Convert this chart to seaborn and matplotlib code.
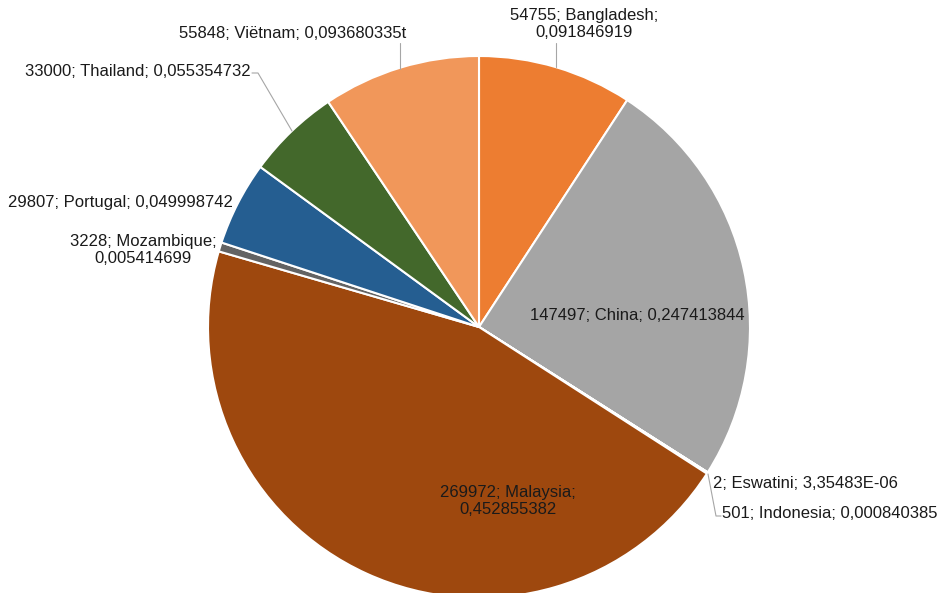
import matplotlib
matplotlib.use("Agg")
import matplotlib.pyplot as plt
import seaborn as sns

sns.set_style("white")
plt.rcParams['font.family'] = ['Liberation Sans', 'DejaVu Sans']

# --- data (clockwise from 12 o'clock) ---
countries = ['Bangladesh', 'China', 'Eswatini', 'Indonesia', 'Malaysia',
             'Mozambique', 'Portugal', 'Thailand', 'Viëtnam']
values = [54755, 147497, 2, 501, 269972, 3228, 29807, 33000, 55848]
shares = ['0,091846919', '0,247413844', '3,35483E-06', '0,000840385',
          '0,452855382', '0,005414699', '0,049998742', '0,055354732',
          '0,093680335t']
colors = ['#ED7D31', '#A5A5A5', '#FFC000', '#5B9BD5', '#9E480E',
          '#636363', '#255E91', '#43682B', '#F1975A']

W, H = 941, 593
CX, CY, R = 479, 327, 271


def px(x, y):
    # pixel position -> data coords of the pie axes
    return (x - CX) / R, (CY - y) / R


fig = plt.figure(figsize=(W / 100, H / 100), dpi=100)
ax = fig.add_axes([(CX - R) / W, (H - CY - R) / H, 2 * R / W, 2 * R / H])

ax.pie(values, colors=colors, startangle=90, counterclock=False,
       wedgeprops=dict(edgecolor='white', linewidth=1.5))
ax.set_xlim(-1, 1)
ax.set_ylim(-1, 1)
ax.set_aspect('auto')
ax.axis('off')

# label placement: (x, y, ha, two-line?)
layout = {
    'Bangladesh': (584, 24, 'center', True),
    'China': (637, 316, 'center', False),
    'Eswatini': (713, 483, 'left', False),
    'Indonesia': (722, 513, 'left', False),
    'Malaysia': (508, 501, 'center', True),
    'Mozambique': (143, 250, 'center', True),
    'Portugal': (233, 203, 'right', False),
    'Thailand': (251, 72, 'right', False),
    'Viëtnam': (293, 33, 'center', False),
}

for name, val, sh in zip(countries, values, shares):
    x, y, ha, two = layout[name]
    sep = ';\n' if two else '; '
    txt = f"{val}; {name}{sep}{sh}"
    tx, ty = px(x, y)
    ax.text(tx, ty, txt, ha=ha, va='center', fontsize=12, color='#1a1a1a',
            linespacing=1.15, clip_on=False)

# leader lines
leaders = [
    [(556, 43), (556, 67)],
    [(400, 43), (400, 69)],
    [(252, 73), (258, 73), (292, 131)],
    [(708, 474), (716, 516), (721, 516)],
]
for pts in leaders:
    xs, ys = zip(*[px(a, b) for a, b in pts])
    ax.plot(xs, ys, color='#A6A6A6', linewidth=0.8, clip_on=False)

fig.savefig('out.png', dpi=100)
